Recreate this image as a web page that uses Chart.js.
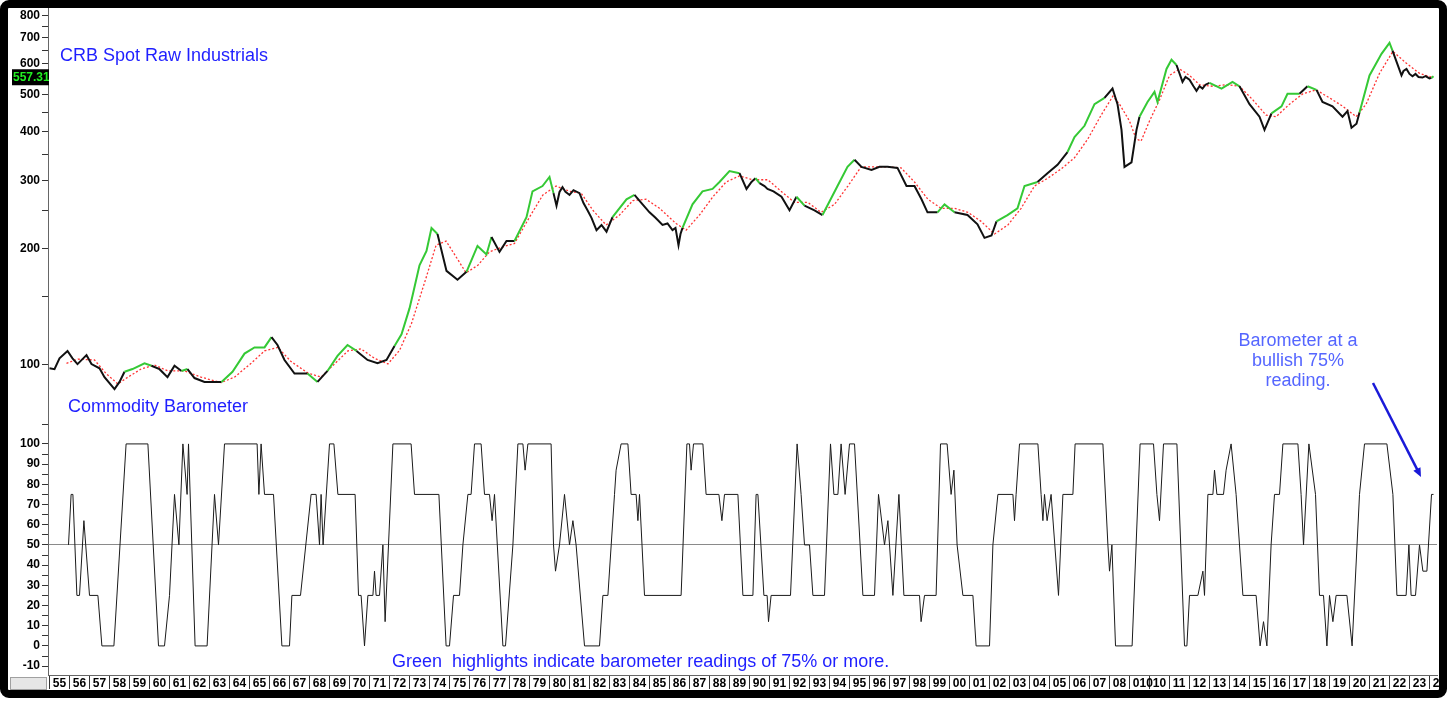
<!DOCTYPE html>
<html>
<head>
<meta charset="utf-8">
<script src="https://cdn.jsdelivr.net/npm/chart.js@4"></script>
<style>
  html, body { margin: 0; padding: 0; background: #fff; }
  body { width: 1451px; height: 702px; position: relative; overflow: hidden; font-family: Arial, "Liberation Sans", sans-serif; }
  #frame { position: absolute; left: 0; top: 0; width: 1447px; height: 698px; border: 8px solid #000; border-radius: 9px; box-sizing: border-box; }
  #wrap { position: absolute; left: 8px; top: 8px; width: 1431px; height: 682px; }
  .note { position: absolute; font-size: 18px; line-height: 18px; color: #1f1fff; white-space: nowrap; }
  #callout { position: absolute; left: 1198px; top: 330px; width: 200px; text-align: center; font-size: 18px; line-height: 20px; color: #5566ff; }
</style>
</head>
<body>
<div id="frame"></div>
<div id="wrap"><canvas id="chart" width="1431" height="682"></canvas></div>
<div class="note" style="left:60px; top:46px;">CRB Spot Raw Industrials</div>
<div class="note" style="left:68px; top:397px;">Commodity Barometer</div>
<div class="note" style="left:392px; top:652px;">Green&nbsp; highlights indicate barometer readings of 75% or more.</div>
<div id="callout">Barometer at a<br>bullish 75%<br>reading.</div>
<script>
// CRB spot raw industrials
const priceYears = [
  1955.0, 1955.25, 1955.5, 1955.9, 1956.15, 1956.4, 1956.85, 1957.1, 1957.5, 1957.75,
  1958.25, 1958.5, 1958.75, 1959.15, 1959.75, 1960.1, 1960.5, 1960.9, 1961.25, 1961.6,
  1961.9, 1962.25, 1962.75, 1963.6, 1964.15, 1964.75, 1965.25, 1965.75, 1966.1, 1966.4,
  1966.75, 1967.25, 1967.9, 1968.4, 1968.9, 1969.4, 1969.9, 1970.35, 1970.9, 1971.4,
  1971.85, 1972.25, 1972.6, 1973.0, 1973.15, 1973.5, 1973.85, 1974.1, 1974.4, 1974.85,
  1975.4, 1975.85, 1976.4, 1976.85, 1977.1, 1977.5, 1977.85, 1978.25, 1978.85, 1979.15,
  1979.65, 1980.0, 1980.2, 1980.35, 1980.5, 1980.65, 1980.8, 1981.0, 1981.2, 1981.5,
  1981.7, 1981.9, 1982.1, 1982.35, 1982.6, 1982.85, 1983.15, 1983.85, 1984.25, 1984.6,
  1985.0, 1985.3, 1985.65, 1985.9, 1986.15, 1986.3, 1986.45, 1986.55, 1986.65, 1987.15,
  1987.65, 1988.15, 1988.5, 1989.0, 1989.5, 1989.85, 1990.1, 1990.3, 1990.5, 1990.75,
  1990.9, 1991.2, 1991.6, 1992.0, 1992.35, 1992.75, 1993.25, 1993.65, 1994.4, 1994.9,
  1995.25, 1995.6, 1996.1, 1996.5, 1996.9, 1997.4, 1997.85, 1998.25, 1998.6, 1998.9,
  1999.4, 1999.75, 2000.25, 2000.9, 2001.4, 2001.75, 2002.1, 2002.35, 2002.9, 2003.4,
  2003.75, 2004.4, 2004.9, 2005.4, 2005.9, 2006.25, 2006.75, 2007.25, 2007.75, 2008.15,
  2008.4, 2008.6, 2008.75, 2009.1, 2009.35, 2009.5, 2009.9, 2010.25, 2010.4, 2010.85,
  2011.1, 2011.35, 2011.65, 2011.8, 2012.0, 2012.2, 2012.35, 2012.5, 2012.65, 2012.8,
  2013.0, 2013.6, 2014.15, 2014.5, 2015.0, 2015.5, 2015.75, 2016.1, 2016.6, 2016.9,
  2017.5, 2017.9, 2018.35, 2018.65, 2019.15, 2019.65, 2019.9, 2020.1, 2020.35, 2020.5,
  2021.0, 2021.6, 2022.0, 2022.15, 2022.6, 2022.7, 2022.85, 2023.0, 2023.15, 2023.3,
  2023.45, 2023.65, 2023.8, 2024.0, 2024.1, 2024.2
];
const priceValues = [
  98, 97.5, 104, 108.7, 104, 100.5, 106, 100.5, 98, 93,
  86.6, 90.4, 96, 97.6, 101, 99.5, 97.5, 93, 99.5, 96.5,
  97.6, 92.5, 90.4, 90.4, 96, 107, 111, 111, 118, 112.6,
  103, 95, 95, 90.4, 96.5, 105.5, 112.6, 108.7, 103, 101,
  103, 112, 120, 140, 151, 181, 197, 226, 218, 175,
  166, 174, 203, 193, 214, 196, 209, 209, 241, 281,
  290, 306, 278, 258, 280, 288, 280, 275, 283, 278,
  262, 251, 240, 223, 230, 221, 241, 268, 275, 262,
  248, 240, 230, 232, 223, 226, 204, 218, 226, 260,
  281, 285, 297, 317, 313, 285, 297, 304, 295, 290,
  285, 281, 272, 251, 272, 258, 251, 244, 290, 325,
  339, 325, 319, 325, 325, 323, 290, 290, 268, 248,
  248, 260, 248, 244, 231, 213, 216, 235, 244, 254,
  290, 297, 313, 329, 355, 388, 415, 472, 490, 518,
  472, 405, 325, 334, 405, 438, 478, 508, 478, 582,
  615, 596, 539, 555, 546, 525, 511, 525, 518, 530,
  536, 518, 539, 525, 472, 438, 405, 447, 466, 502,
  502, 525, 514, 478, 466, 438, 453, 410, 420, 449,
  560, 637, 680, 649, 560, 575, 582, 565, 557, 565,
  555, 553, 558, 550, 552, 557.31
];

// red dotted moving average
const avgYears = [
  1955.85, 1956.42, 1957.25, 1957.83, 1958.42, 1958.92, 1959.58, 1960.25, 1960.92, 1961.75,
  1962.58, 1963.58, 1964.25, 1965.08, 1965.75, 1966.42, 1967.08, 1967.92, 1968.58, 1969.25,
  1969.92, 1970.58, 1971.25, 1971.92, 1972.5, 1973.1, 1973.83, 1974.33, 1974.83, 1975.42,
  1975.83, 1976.42, 1977.0, 1977.67, 1978.25, 1979.0, 1979.67, 1980.33, 1981.0, 1981.58,
  1982.17, 1982.83, 1983.5, 1984.17, 1984.83, 1985.5, 1986.33, 1986.83, 1987.5, 1988.17,
  1988.83, 1989.5, 1990.17, 1990.92, 1991.58, 1992.25, 1992.92, 1993.58, 1994.25, 1994.92,
  1995.58, 1996.25, 1996.92, 1997.58, 1998.25, 1998.92, 1999.58, 2000.25, 2000.92, 2001.58,
  2002.25, 2002.92, 2003.58, 2004.25, 2004.92, 2005.58, 2006.25, 2006.92, 2007.58, 2008.17,
  2008.5, 2009.0, 2009.33, 2009.58, 2010.0, 2010.5, 2011.0, 2011.5, 2012.0, 2012.5,
  2013.17, 2013.83, 2014.5, 2015.17, 2015.83, 2016.33, 2017.0, 2017.67, 2018.33, 2019.0,
  2019.67, 2020.33, 2020.83, 2021.5, 2022.17, 2022.83, 2023.5, 2024.17
];
const avgValues = [
  101, 103.5, 103, 95, 89.3, 93, 97.6, 100, 96.5, 96.5,
  93, 90, 93, 101, 108.7, 111, 102, 95.3, 93, 100.6,
  108.7, 110, 104, 100.6, 109, 128, 168, 204, 209, 187,
  173, 181, 196, 202, 206, 241, 275, 290, 281, 278,
  251, 230, 244, 266, 268, 254, 232, 223, 244, 272,
  297, 308, 301, 301, 281, 263, 263, 248, 260, 290,
  325, 325, 325, 323, 297, 268, 254, 254, 248, 235,
  218, 230, 254, 290, 304, 321, 343, 384, 442, 495,
  472, 427, 384, 379, 427, 484, 560, 582, 560, 530,
  525, 530, 525, 484, 442, 438, 472, 502, 514, 490,
  466, 438, 472, 567, 646, 603, 567, 553
];

// commodity barometer, turning points of the line
const baroYears = [
  1955.95, 1956.08, 1956.17, 1956.37, 1956.5, 1956.72, 1957.0, 1957.42, 1957.62, 1958.22,
  1958.83, 1959.92, 1960.45, 1960.75, 1961.0, 1961.25, 1961.47, 1961.67, 1961.88, 1961.95,
  1962.28, 1962.88, 1963.25, 1963.45, 1963.75, 1965.38, 1965.47, 1965.58, 1965.75, 1966.2,
  1966.62, 1967.0, 1967.12, 1967.55, 1968.08, 1968.33, 1968.5, 1968.58, 1968.68, 1969.0,
  1969.22, 1969.42, 1970.28, 1970.45, 1970.58, 1970.75, 1970.92, 1971.17, 1971.25, 1971.33,
  1971.5, 1971.67, 1971.78, 1971.95, 1972.17, 1973.08, 1973.25, 1974.47, 1974.83, 1975.0,
  1975.2, 1975.5, 1975.67, 1975.92, 1976.08, 1976.25, 1976.58, 1976.75, 1977.0, 1977.13,
  1977.25, 1977.67, 1977.8, 1978.17, 1978.42, 1978.67, 1978.78, 1978.92, 1980.08, 1980.2,
  1980.3, 1980.5, 1980.75, 1981.0, 1981.17, 1981.33, 1981.75, 1982.5, 1982.67, 1982.92,
  1983.25, 1983.33, 1983.58, 1983.92, 1984.08, 1984.33, 1984.42, 1984.5, 1984.75, 1986.58,
  1986.87, 1987.0, 1987.08, 1987.2, 1987.67, 1987.83, 1988.47, 1988.62, 1988.75, 1989.42,
  1989.67, 1990.17, 1990.33, 1990.42, 1990.72, 1990.88, 1990.95, 1991.08, 1992.05, 1992.38,
  1992.58, 1992.75, 1993.0, 1993.17, 1993.75, 1994.05, 1994.22, 1994.42, 1994.58, 1994.78,
  1995.0, 1995.25, 1995.67, 1996.25, 1996.45, 1996.75, 1996.92, 1997.17, 1997.47, 1997.72,
  1998.5, 1998.58, 1998.75, 1999.33, 1999.55, 1999.88, 2000.08, 2000.22, 2000.38, 2000.67,
  2001.17, 2001.33, 2002.0, 2002.17, 2002.42, 2003.17, 2003.25, 2003.33, 2003.5, 2004.42,
  2004.58, 2004.67, 2004.75, 2004.88, 2005.08, 2005.45, 2005.67, 2006.17, 2006.28, 2007.67,
  2007.92, 2008.0, 2008.12, 2008.3, 2009.13, 2009.53, 2010.2, 2010.37, 2010.5, 2010.7,
  2011.37, 2011.75, 2011.87, 2012.0, 2012.42, 2012.67, 2012.75, 2012.92, 2013.17, 2013.25,
  2013.37, 2013.7, 2013.83, 2014.08, 2014.33, 2014.67, 2015.33, 2015.53, 2015.7, 2015.87,
  2016.08, 2016.25, 2016.5, 2016.67, 2017.42, 2017.58, 2017.7, 2017.97, 2018.3, 2018.5,
  2018.7, 2018.87, 2019.0, 2019.17, 2019.33, 2019.87, 2020.13, 2020.5, 2020.75, 2021.87,
  2022.17, 2022.37, 2022.83, 2022.97, 2023.08, 2023.3, 2023.5, 2023.67, 2023.87, 2024.1,
  2024.2
];
const baroValues = [
  50, 75, 75, 25, 25, 62, 25, 25, 0, 0,
  100, 100, 0, 0, 25, 75, 50, 100, 75, 100,
  0, 0, 75, 50, 100, 100, 75, 100, 75, 75,
  0, 0, 25, 25, 75, 75, 50, 75, 50, 100,
  100, 75, 75, 25, 25, 0, 25, 25, 37, 25,
  25, 50, 12, 50, 100, 100, 75, 75, 0, 0,
  25, 25, 50, 75, 75, 100, 100, 75, 75, 62,
  75, 0, 0, 50, 100, 100, 87, 100, 100, 50,
  37, 50, 75, 50, 62, 50, 0, 0, 25, 25,
  75, 87, 100, 100, 75, 75, 62, 75, 25, 25,
  100, 100, 87, 100, 100, 75, 75, 62, 75, 75,
  25, 25, 75, 75, 25, 25, 12, 25, 25, 100,
  75, 50, 50, 25, 25, 100, 75, 75, 100, 75,
  100, 100, 25, 25, 75, 50, 62, 25, 75, 25,
  25, 12, 25, 25, 100, 100, 75, 87, 50, 25,
  25, 0, 0, 50, 75, 75, 62, 75, 100, 100,
  75, 62, 75, 62, 75, 25, 75, 75, 100, 100,
  50, 37, 50, 0, 0, 100, 100, 75, 62, 100,
  100, 0, 0, 25, 25, 37, 25, 75, 75, 87,
  75, 75, 87, 100, 75, 25, 25, 0, 12, 0,
  50, 75, 75, 100, 100, 75, 50, 100, 75, 25,
  25, 0, 25, 12, 25, 25, 0, 75, 100, 100,
  75, 25, 25, 50, 25, 25, 50, 37, 37, 75,
  75
];

// axis ticks
const xLabels = ['55','56','57','58','59','60','61','62','63','64','65','66','67','68','69',
  '70','71','72','73','74','75','76','77','78','79','80','81','82','83','84','85','86','87',
  '88','89','90','91','92','93','94','95','96','97','98','99','00','01','02','03','04','05',
  '06','07','08','010','10','11','12','13','14','15','16','17','18','19','20','21','22','23','24'];
const priceTicks = [70, 100, 150, 200, 250, 300, 350, 400, 450, 500, 550, 600, 650, 700, 750, 800];
const priceLabels = [100, 200, 300, 400, 500, 600, 700, 800];
const baroTicks = [-10, -5, 0, 5, 10, 15, 20, 25, 30, 35, 40, 45, 50, 55, 60, 65, 70, 75, 80, 85, 90, 95, 100];

const FONT = 'Arial, "Liberation Sans", sans-serif';
const GREEN = '#35c935';

// barometer level at a given date, used to colour the price line
function baroAt(x) {
    if (x < baroYears[0] || x > baroYears[baroYears.length - 1]) return null;
    for (let i = 1; i < baroYears.length; i++) {
        if (x <= baroYears[i]) {
            const t = (x - baroYears[i - 1]) / (baroYears[i] - baroYears[i - 1]);
            return baroValues[i - 1] + t * (baroValues[i] - baroValues[i - 1]);
        }
    }
    return null;
}

const extras = {
    id: 'extras',
    afterDraw(chart) {
        const c = chart.ctx;
        const yP = chart.scales.yP;

        // last value tag on the price axis
        const last = priceValues[priceValues.length - 1];
        const py = yP.getPixelForValue(last);
        c.save();
        c.fillStyle = '#000';
        c.fillRect(4, py - 7, 37, 16);
        c.beginPath();
        c.rect(4, py - 7, 37, 16);
        c.clip();
        c.fillStyle = '#22ee22';
        c.font = 'bold 12px ' + FONT;
        c.textBaseline = 'middle';
        c.fillText(last.toFixed(3), 5, py + 1);
        c.restore();

        // grey box under the value axis
        c.save();
        c.fillStyle = '#e6e6e6';
        c.strokeStyle = '#a0a0a0';
        c.fillRect(2, 669, 36, 12);
        c.strokeRect(2.5, 669.5, 36, 12);
        c.restore();

        // arrow to the last barometer reading
        const x0 = 1365, y0 = 375, x1 = 1413, y1 = 469;
        const ang = Math.atan2(y1 - y0, x1 - x0);
        c.save();
        c.strokeStyle = '#1a1ad8';
        c.fillStyle = '#1a1ad8';
        c.lineWidth = 2.5;
        c.beginPath();
        c.moveTo(x0, y0);
        c.lineTo(x1 - 6 * Math.cos(ang), y1 - 6 * Math.sin(ang));
        c.stroke();
        c.beginPath();
        c.moveTo(x1, y1);
        c.lineTo(x1 - 9 * Math.cos(ang) + 4 * Math.sin(ang), y1 - 9 * Math.sin(ang) - 4 * Math.cos(ang));
        c.lineTo(x1 - 9 * Math.cos(ang) - 4 * Math.sin(ang), y1 - 9 * Math.sin(ang) + 4 * Math.cos(ang));
        c.closePath();
        c.fill();
        c.restore();
    }
};

const yTickFont = { family: FONT, size: 12, weight: 'bold' };

new Chart(document.getElementById('chart'), {
    type: 'line',
    data: {
        datasets: [
            {
                label: 'CRB Spot Raw Industrials',
                data: priceYears.map((x, i) => ({ x: x, y: priceValues[i] })),
                yAxisID: 'yP',
                borderColor: '#111',
                borderWidth: 2,
                pointRadius: 0,
                segment: {
                    borderColor: ctx => {
                        const v = baroAt((ctx.p0.parsed.x + ctx.p1.parsed.x) / 2);
                        return v !== null && v >= 74 ? GREEN : '#111';
                    }
                },
                order: 1
            },
            {
                label: 'Average',
                data: avgYears.map((x, i) => ({ x: x, y: avgValues[i] })),
                yAxisID: 'yP',
                borderColor: '#ff3333',
                borderWidth: 1.3,
                borderDash: [2, 2],
                pointRadius: 0,
                order: 2
            },
            {
                label: 'Commodity Barometer',
                data: baroYears.map((x, i) => ({ x: x, y: baroValues[i] })),
                yAxisID: 'yB',
                borderColor: '#1a1a1a',
                borderWidth: 1,
                pointRadius: 0,
                order: 3
            }
        ]
    },
    options: {
        responsive: false,
        animation: false,
        layout: { padding: { left: 0, top: 0, right: 2, bottom: 0 } },
        plugins: { legend: { display: false }, tooltip: { enabled: false } },
        scales: {
            x: {
                type: 'linear',
                position: 'bottom',
                min: 1954.925,
                max: 2024.375,
                afterBuildTicks: s => { s.ticks = xLabels.map((l, i) => ({ value: 1955 + i })); },
                afterFit: s => { s.height = 15; s.paddingLeft = 0; s.paddingRight = 0; },
                ticks: {
                    autoSkip: false, maxRotation: 0, minRotation: 0, align: 'start', padding: -13,
                    color: '#000', font: yTickFont,
                    callback: (v, i) => ' ' + xLabels[i]
                },
                grid: { drawOnChartArea: false, drawTicks: true, tickLength: 14, tickColor: '#333', color: '#333' },
                border: { display: true, color: '#666' }
            },
            yP: {
                type: 'logarithmic',
                position: 'left',
                stack: 'panels',
                stackWeight: 425,
                weight: 2,
                min: 66.7,
                max: 836.5,
                afterBuildTicks: s => { s.ticks = priceTicks.map(v => ({ value: v })); },
                afterFit: s => { s.width = 40; s.paddingTop = 0; s.paddingBottom = 0; },
                ticks: {
                    autoSkip: false, padding: 2, color: '#000', font: yTickFont,
                    callback: v => priceLabels.includes(v) ? String(v) : ''
                },
                grid: { drawOnChartArea: false, tickLength: 6, tickColor: '#333' },
                border: { display: true, color: '#666' }
            },
            yB: {
                type: 'linear',
                position: 'left',
                stack: 'panels',
                stackWeight: 242,
                weight: 1,
                min: -14.4,
                max: 105.4,
                afterBuildTicks: s => { s.ticks = baroTicks.map(v => ({ value: v })); },
                afterFit: s => { s.width = 40; s.paddingTop = 0; s.paddingBottom = 0; },
                ticks: {
                    autoSkip: false, padding: 2, color: '#000', font: yTickFont,
                    callback: v => v % 10 === 0 ? String(v) : ''
                },
                grid: {
                    drawOnChartArea: true, tickLength: 6, tickColor: '#333',
                    color: ctx => ctx.tick && ctx.tick.value === 50 ? '#8a8a8a' : 'rgba(0,0,0,0)'
                },
                border: { display: true, color: '#666' }
            }
        }
    },
    plugins: [extras]
});
</script>
</body>
</html>
